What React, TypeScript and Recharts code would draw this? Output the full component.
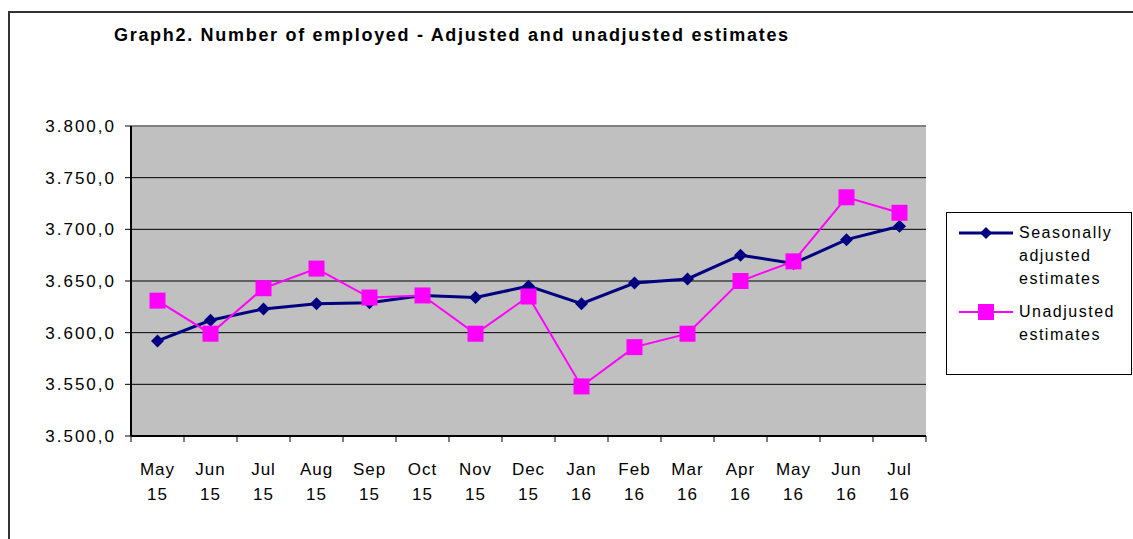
import React from 'react';
import {
  LineChart,
  Line,
  XAxis,
  YAxis,
  CartesianGrid,
  ReferenceLine,
} from 'recharts';

// Graph2 - employed persons, adjusted vs unadjusted (thousands)
const months = ['May', 'Jun', 'Jul', 'Aug', 'Sep', 'Oct', 'Nov', 'Dec', 'Jan', 'Feb', 'Mar', 'Apr', 'May', 'Jun', 'Jul'];
const years = ['15', '15', '15', '15', '15', '15', '15', '15', '16', '16', '16', '16', '16', '16', '16'];
const seasonallyAdjusted = [3592, 3612, 3623, 3628, 3629, 3636, 3634, 3645, 3628, 3648, 3652, 3675, 3667, 3690, 3703];
const unadjusted = [3631, 3599, 3643, 3662, 3634, 3636, 3599, 3635, 3548, 3586, 3599, 3650, 3669, 3731, 3716];
const yTicks = [3500, 3550, 3600, 3650, 3700, 3750, 3800];

const data = months.map((m, i) => ({
  label: `${m}|${years[i]}`,
  adjusted: seasonallyAdjusted[i],
  unadjusted: unadjusted[i],
}));

const FONT = '"Liberation Sans", Arial, sans-serif';
const NAVY = '#000080';
const MAGENTA = '#FF00FF';

const fmtY = (v: number) => `${Math.floor(v / 1000)}.${String(v % 1000).padStart(3, '0')},0`;

const Diamond = (props: any) => {
  const { cx, cy } = props;
  if (cx == null || cy == null) return null;
  const r = 6.5;
  return <polygon points={`${cx},${cy - r} ${cx + r},${cy} ${cx},${cy + r} ${cx - r},${cy}`} fill={NAVY} />;
};

const Square = (props: any) => {
  const { cx, cy } = props;
  if (cx == null || cy == null) return null;
  const s = 16;
  return <rect x={cx - s / 2} y={cy - s / 2} width={s} height={s} fill={MAGENTA} />;
};

// two-line month label, plus Excel-style tick marks between categories
const MonthTick = (props: any) => {
  const { x, y, payload, index, visibleTicksCount, width } = props;
  const [m, yr] = String(payload.value).split('|');
  const step = (width || 795) / (visibleTicksCount || 15);
  const isLast = index === (visibleTicksCount || 15) - 1;
  return (
    <g>
      <line x1={x - step / 2} y1={y} x2={x - step / 2} y2={y + 6} stroke="#000" />
      {isLast && <line x1={x + step / 2} y1={y} x2={x + step / 2} y2={y + 6} stroke="#000" />}
      <text x={x} textAnchor="middle" fontFamily={FONT} fontSize={17} fill="#000" letterSpacing={1}>
        <tspan x={x} y={y + 39}>{m}</tspan>
        <tspan x={x} y={y + 64}>{yr}</tspan>
      </text>
    </g>
  );
};

const LegendBox = () => (
  <div
    style={{
      position: 'absolute',
      left: 946,
      top: 212,
      width: 186,
      height: 163,
      border: '1px solid #000',
      background: '#fff',
      boxSizing: 'border-box',
      fontFamily: FONT,
      fontSize: 16,
      lineHeight: '23px',
      letterSpacing: 1.5,
    }}
  >
    <svg width={60} height={140} style={{ position: 'absolute', left: 12, top: 0 }}>
      <line x1={0} y1={20} x2={54} y2={20} stroke={NAVY} strokeWidth={3} />
      <polygon points="27,14 33,20 27,26 21,20" fill={NAVY} />
      <line x1={0} y1={99} x2={54} y2={99} stroke={MAGENTA} strokeWidth={2} />
      <rect x={19} y={91} width={16} height={16} fill={MAGENTA} />
    </svg>
    <div style={{ position: 'absolute', left: 72, top: 8 }}>
      Seasonally<br />adjusted<br />estimates
    </div>
    <div style={{ position: 'absolute', left: 72, top: 87 }}>
      Unadjusted<br />estimates
    </div>
  </div>
);

export default function App() {
  return (
    <div style={{ position: 'absolute', left: 0, top: 0, width: 1133, height: 539, overflow: 'hidden', background: '#fff' }}>
      <div
        style={{
          position: 'absolute',
          left: 8,
          top: 11,
          width: 1200,
          height: 600,
          borderLeft: '2px solid #333',
          borderTop: '2px solid #333',
        }}
      />
      <div
        style={{
          position: 'absolute',
          left: 114,
          top: 25,
          fontFamily: FONT,
          fontWeight: 'bold',
          fontSize: 18,
          letterSpacing: 1.7,
          whiteSpace: 'nowrap',
        }}
      >
        Graph2. Number of employed - Adjusted and unadjusted estimates
      </div>
      <div style={{ position: 'absolute', left: 0, top: 0 }}>
        <LineChart width={1133} height={539} data={data} margin={{ top: 126, right: 207, bottom: 0, left: 0 }}>
          <CartesianGrid vertical={false} stroke="#000" fill="#C0C0C0" fillOpacity={1} />
          <XAxis
            dataKey="label"
            height={103}
            padding={{ left: 26.5, right: 26.5 }}
            tick={<MonthTick />}
            tickLine={false}
            tickSize={0}
            tickMargin={0}
            interval={0}
            axisLine={{ stroke: '#000', strokeWidth: 2 }}
          />
          <YAxis
            domain={[3500, 3800]}
            ticks={yTicks}
            width={131}
            tickSize={6}
            tickMargin={9}
            tickFormatter={fmtY}
            tick={{ fontFamily: FONT, fontSize: 17, fill: '#000', letterSpacing: 2 }}
            axisLine={{ stroke: '#000', strokeWidth: 2 }}
            tickLine={{ stroke: '#000' }}
            allowDataOverflow
          />
          <YAxis
            yAxisId="right"
            orientation="right"
            domain={[3500, 3800]}
            width={0}
            tick={false}
            tickLine={false}
            axisLine={{ stroke: '#808080', strokeWidth: 2 }}
          />
          <ReferenceLine y={3800} stroke="#808080" strokeWidth={2} />
          <Line
            dataKey="adjusted"
            stroke={NAVY}
            strokeWidth={3}
            dot={<Diamond />}
            activeDot={false}
            isAnimationActive={false}
          />
          <Line
            dataKey="unadjusted"
            stroke={MAGENTA}
            strokeWidth={2}
            dot={<Square />}
            activeDot={false}
            isAnimationActive={false}
          />
        </LineChart>
      </div>
      <LegendBox />
    </div>
  );
}
